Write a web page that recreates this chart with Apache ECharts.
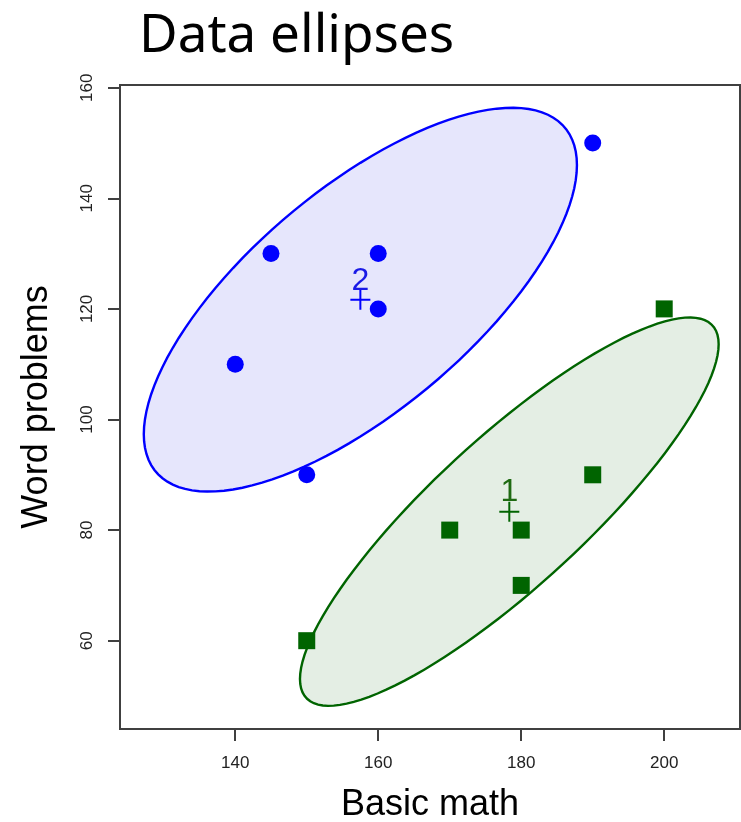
<!DOCTYPE html>
<html><head><meta charset="utf-8">
<script src="https://cdn.jsdelivr.net/npm/echarts@6/dist/echarts.min.js"></script>
<style>html,body{margin:0;padding:0;background:#fff;overflow:hidden}#c{width:741px;height:822px}</style>
</head><body><div id="c"></div>
<script>
// Group 2 (blue circles)
const group2Math = [140, 145, 150, 160, 160, 190];
const group2Word = [110, 130, 90, 130, 120, 150];
// Group 1 (green squares)
const group1Math = [150, 170, 180, 180, 190, 200];
const group1Word = [60, 80, 80, 70, 90, 120];
const groupLabels = ['2', '1'];
const xTicks = [140, 160, 180, 200];
const yTicks = [60, 80, 100, 120, 140, 160];
const ellipseRadius = 1.7;

function stats(xs, ys) {
  const n = xs.length;
  const mx = xs.reduce((a, b) => a + b, 0) / n;
  const my = ys.reduce((a, b) => a + b, 0) / n;
  let sxx = 0, syy = 0, sxy = 0;
  for (let i = 0; i < n; i++) {
    sxx += (xs[i] - mx) ** 2; syy += (ys[i] - my) ** 2; sxy += (xs[i] - mx) * (ys[i] - my);
  }
  return { mx, my, sxx: sxx / (n - 1), syy: syy / (n - 1), sxy: sxy / (n - 1) };
}
function zip(xs, ys) { return xs.map((x, i) => [x, ys[i]]); }

const groups = [
  { xs: group2Math, ys: group2Word, label: groupLabels[0], line: '#0000ff', fill: '#e6e6fc', text: '#1a1ae6', symbol: 'circle' },
  { xs: group1Math, ys: group1Word, label: groupLabels[1], line: '#006400', fill: '#e4eee4', text: '#1f6a12', symbol: 'rect' }
];

const series = [];
groups.forEach(g => {
  const s = stats(g.xs, g.ys);
  const a = Math.sqrt(s.sxx), b = s.sxy / a, c = Math.sqrt(s.syy - b * b);
  series.push({
    type: 'custom', z: 1, silent: true,
    data: [[s.mx, s.my]],
    renderItem: function (params, api) {
      const pts = [];
      const N = 120;
      for (let k = 0; k < N; k++) {
        const t = 2 * Math.PI * k / N;
        const x = s.mx + ellipseRadius * a * Math.cos(t);
        const y = s.my + ellipseRadius * (b * Math.cos(t) + c * Math.sin(t));
        pts.push(api.coord([x, y]));
      }
      return { type: 'polygon', shape: { points: pts }, style: { fill: g.fill, stroke: g.line, lineWidth: 2.4 } };
    }
  });
  series.push({
    type: 'scatter', z: 3, symbol: g.symbol, symbolSize: 17,
    itemStyle: { color: g.line, opacity: 1 },
    data: zip(g.xs, g.ys)
  });
  series.push({
    type: 'scatter', z: 4,
    symbol: 'path://M9,0H11V9H20V11H11V20H9V11H0V9H9Z', symbolSize: 20,
    itemStyle: { color: g.line, opacity: 1 },
    label: { show: true, position: 'inside', offset: [0, -19], formatter: g.label,
      fontFamily: 'Liberation Sans', fontSize: 32, color: g.text },
    data: [[s.mx, s.my]]
  });
});

const chart = echarts.init(document.getElementById('c'), null, { renderer: 'canvas', width: 741, height: 822 });
chart.setOption({
  animation: false,
  backgroundColor: '#fff',
  title: { text: 'Data ellipses', left: 134, top: 5,
    textStyle: { fontFamily: 'Noto Sans', fontSize: 53, fontWeight: 'normal', color: '#000' } },
  grid: { left: 120, top: 85, width: 620, height: 644, outerBoundsMode: 'none', containLabel: false,
    show: true, borderColor: '#404040', borderWidth: 2, backgroundColor: 'transparent' },
  xAxis: {
    type: 'value', min: 123.88, max: 210.6,
    name: 'Basic math', nameLocation: 'middle', nameGap: 58,
    nameTextStyle: { fontFamily: 'Liberation Sans', fontSize: 36, color: '#000' },
    axisLine: { show: false },
    splitLine: { show: false },
    axisTick: { show: true, length: 12, customValues: xTicks, lineStyle: { color: '#404040', width: 2 } },
    axisLabel: { customValues: xTicks, margin: 26, fontFamily: 'Liberation Sans', fontSize: 17, color: '#222' }
  },
  yAxis: {
    type: 'value', min: 44.03, max: 160.49,
    name: 'Word problems', nameLocation: 'middle', nameGap: 65,
    nameTextStyle: { fontFamily: 'Liberation Sans', fontSize: 36, color: '#000' },
    axisLine: { show: false },
    splitLine: { show: false },
    axisTick: { show: true, length: 12, customValues: yTicks, lineStyle: { color: '#404040', width: 2 } },
    axisLabel: { customValues: yTicks, rotate: 90, margin: 24, fontFamily: 'Liberation Sans', fontSize: 17, color: '#222' }
  },
  series: series
});
</script></body></html>
